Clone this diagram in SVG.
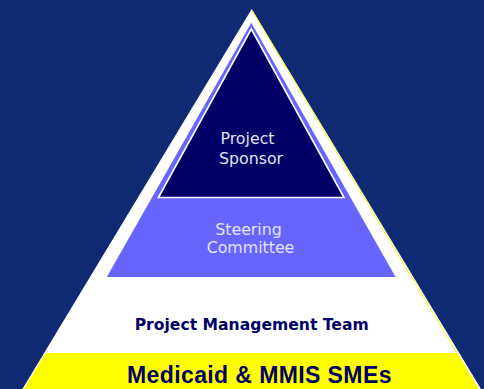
<svg xmlns="http://www.w3.org/2000/svg" width="484" height="389" viewBox="0 0 484 389">
  <style>
    .light { font-family: "DejaVu Sans", Verdana, sans-serif; font-size: 15.8px; fill: #E2E2F2; text-anchor: middle; }
    .pmt { font-family: "DejaVu Sans", Verdana, sans-serif; font-size: 15.6px; font-weight: bold; fill: #000066; text-anchor: middle; }
    .sme { font-family: "Liberation Sans", Arial, sans-serif; font-size: 23px; font-weight: bold; fill: #000066; letter-spacing: 0.4px; text-anchor: middle; }
  </style>
  <rect id="background" x="0" y="0" width="484" height="389" fill="#0F2972"/>
  <g id="pyramid-base">
    <polygon points="251.7,9 481,389 22.4,389" fill="#FFFFFF"/>
    <line x1="252.4" y1="11" x2="478.5" y2="389" stroke="#FFFF00" stroke-width="1"/>
  </g>
  <g id="node-smes">
    <polygon points="45.5,353 456.8,353 478.6,389 24,389" fill="#FFFF00"/>
    <text class="sme" x="259.4" y="383.3">Medicaid &amp; MMIS SMEs</text>
  </g>
  <g id="node-pmt">
    <text class="pmt" x="251.7" y="330">Project Management Team</text>
  </g>
  <g id="node-steering">
    <polygon points="251.3,22.7 395.6,277 106.8,277" fill="#6666FF"/>
    <text class="light" x="248.5" y="235">Steering</text>
    <text class="light" x="250.5" y="252.7">Committee</text>
  </g>
  <g id="node-sponsor">
    <polygon points="251.3,29 344,197.5 158.4,197.5" fill="#000066" stroke="#FFFFFF" stroke-width="1.6" stroke-linejoin="miter"/>
    <text class="light" x="247.5" y="144">Project</text>
    <text class="light" x="251" y="164.3">Sponsor</text>
  </g>
  <g id="connectors"/>
</svg>
